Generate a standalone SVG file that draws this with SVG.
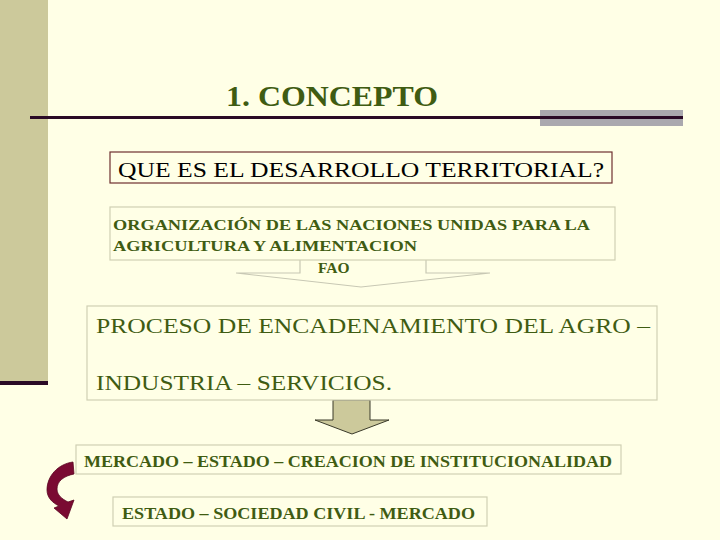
<svg xmlns="http://www.w3.org/2000/svg" width="720" height="540" viewBox="0 0 720 540">
<style>
.g{font-family:"Liberation Serif","Times New Roman",serif;fill:#3f5c12}
.b{font-weight:bold}
.box{fill:#ffffe6;stroke:#d0d0b4;stroke-width:1.2}
</style>
<rect width="720" height="540" fill="#ffffe6"/>
<rect x="0" y="0" width="48" height="383" fill="#ccc99b"/>
<rect x="0" y="381" width="48" height="4" fill="#2a0a26"/>
<rect x="540" y="110" width="143" height="16" fill="#aaa8ae"/>
<rect x="30" y="116" width="653" height="3" fill="#2a0a26"/>
<g id="title"><text x="226" y="106" class="g b" font-size="30" textLength="212" lengthAdjust="spacingAndGlyphs">1. CONCEPTO</text></g>
<g id="connectors">
<path d="M300,258 V273 H236 L361,287 L490,273 H426 V258" fill="#ffffe6" stroke="#c8c8b4" stroke-width="1.2"/>
<path d="M333,400 H370 V420 H389 L352,434 L315,420 H333 Z" fill="#ccc99b" stroke="#3a3a2a" stroke-width="1"/>
<path d="M73,462 C58,464 47,476 47,490 C47,498 53,503 59,506 L54,508 L67,519 L74,500 L68,502 C62,499 57,495 57,489 C57,481 64,476 74,474 Z" fill="#7a0a32" stroke="#5a0822" stroke-width="0.8"/>
</g>
<g id="n1"><rect x="110" y="152" width="502" height="31" fill="#ffffe6" stroke="#6e3030" stroke-width="1.2"/>
<text x="118" y="177" font-family="'Liberation Serif',serif" font-size="22" fill="#000" textLength="486" lengthAdjust="spacingAndGlyphs">QUE ES EL DESARROLLO TERRITORIAL?</text></g>
<g id="n2"><rect x="110" y="207" width="505" height="53" class="box"/>
<text x="113" y="230" class="g b" font-size="15.5" textLength="477" lengthAdjust="spacingAndGlyphs">ORGANIZACIÓN DE LAS NACIONES UNIDAS PARA  LA</text>
<text x="113" y="251" class="g b" font-size="15.5" textLength="304" lengthAdjust="spacingAndGlyphs">AGRICULTURA Y ALIMENTACION</text>
<text x="318" y="273" class="g b" font-size="15.5">FAO</text></g>
<g id="n3"><rect x="87" y="306" width="570" height="94" class="box"/>
<text x="96" y="333" class="g" font-size="21" textLength="554" lengthAdjust="spacingAndGlyphs">PROCESO DE ENCADENAMIENTO DEL AGRO –</text>
<text x="96" y="390" class="g" font-size="21" textLength="296" lengthAdjust="spacingAndGlyphs">INDUSTRIA – SERVICIOS.</text></g>
<g id="n4"><rect x="76" y="445" width="545" height="29" class="box"/>
<text x="84" y="467" class="g b" font-size="16" textLength="528" lengthAdjust="spacingAndGlyphs">MERCADO – ESTADO – CREACION DE INSTITUCIONALIDAD</text></g>
<g id="n5"><rect x="113" y="497" width="374" height="29" class="box"/>
<text x="122" y="519" class="g b" font-size="16" textLength="353" lengthAdjust="spacingAndGlyphs">ESTADO – SOCIEDAD CIVIL - MERCADO</text></g>
</svg>
